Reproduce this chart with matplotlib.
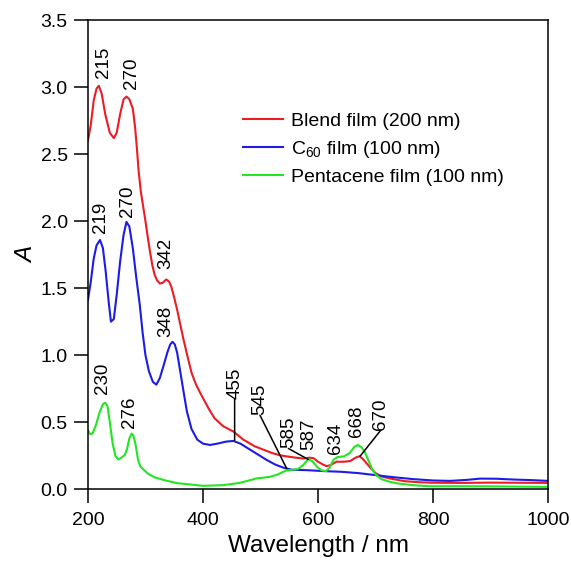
import matplotlib
matplotlib.use('Agg')
from matplotlib import pyplot as plt

plt.rcParams['font.family'] = ['Liberation Sans', 'DejaVu Sans']
plt.rcParams['mathtext.fontset'] = 'custom'
plt.rcParams['mathtext.rm'] = 'Liberation Sans'
plt.rcParams['mathtext.it'] = 'Liberation Sans:italic'
plt.rcParams['mathtext.default'] = 'regular'

# spectra (wavelength nm, absorbance)
blend_wl = [200, 205, 210, 215, 219, 224, 230, 238, 245, 250, 256, 262, 267, 272, 278, 282,
            285, 288, 292, 296, 300, 304, 308, 312, 316, 320, 325, 330, 336, 341, 345, 350,
            355, 360, 366, 372, 380, 388, 395, 410, 420, 435, 453, 470, 490, 505, 520, 535,
            550, 565, 575, 585, 592, 600, 608, 615, 622, 632, 645, 656, 665, 672, 678, 685,
            692, 700, 710, 725, 750, 775, 800, 850, 900, 950, 1000]
blend_a = [2.60, 2.72, 2.90, 2.99, 3.01, 2.95, 2.80, 2.66, 2.62, 2.66, 2.80, 2.91, 2.93, 2.91, 2.84, 2.70,
           2.55, 2.38, 2.22, 2.11, 2.00, 1.88, 1.77, 1.67, 1.60, 1.56, 1.535, 1.54, 1.565, 1.55, 1.51, 1.43,
           1.34, 1.24, 1.12, 1.01, 0.87, 0.78, 0.72, 0.60, 0.53, 0.47, 0.43, 0.37, 0.32, 0.295, 0.27, 0.252,
           0.242, 0.233, 0.229, 0.235, 0.232, 0.205, 0.185, 0.172, 0.18, 0.205, 0.205, 0.21, 0.235, 0.246, 0.225, 0.19,
           0.155, 0.12, 0.095, 0.08, 0.06, 0.052, 0.048, 0.047, 0.049, 0.048, 0.047]

c60_wl = [200, 205, 210, 215, 221, 226, 231, 236, 240, 245, 250, 256, 262, 267, 272, 278,
          284, 290, 295, 300, 306, 313, 319, 325, 332, 338, 343, 347, 351, 355, 360, 365,
          372, 380, 390, 400, 412, 425, 440, 453, 465, 480, 495, 510, 525, 540, 555, 580,
          610, 640, 670, 700, 730, 766, 800, 830, 860, 882, 910, 940, 970, 1000]
c60_a = [1.41, 1.55, 1.72, 1.82, 1.86, 1.80, 1.62, 1.40, 1.25, 1.27, 1.45, 1.70, 1.90, 1.995, 1.96, 1.80,
         1.58, 1.38, 1.17, 1.00, 0.88, 0.80, 0.78, 0.83, 0.93, 1.02, 1.08, 1.10, 1.08, 1.02, 0.89, 0.76,
         0.58, 0.45, 0.37, 0.34, 0.33, 0.34, 0.355, 0.36, 0.34, 0.30, 0.26, 0.22, 0.185, 0.16, 0.145, 0.142,
         0.135, 0.13, 0.12, 0.105, 0.09, 0.075, 0.065, 0.062, 0.07, 0.079, 0.078, 0.072, 0.068, 0.062]

pen_wl = [200, 204, 208, 214, 220, 226, 230, 234, 238, 243, 248, 253, 258, 264, 268, 272,
          276, 279, 283, 287, 291, 297, 304, 315, 333, 355, 374, 400, 435, 464, 493, 516,
          530, 543, 555, 565, 574, 583, 590, 598, 606, 614, 620, 627, 634, 645, 655, 663,
          669, 675, 681, 687, 694, 700, 710, 725, 740, 765, 795, 850, 900, 950, 1000]
pen_a = [0.44, 0.41, 0.415, 0.48, 0.57, 0.635, 0.645, 0.62, 0.50, 0.34, 0.245, 0.222, 0.235, 0.255, 0.30, 0.38,
         0.415, 0.40, 0.33, 0.22, 0.17, 0.145, 0.117, 0.09, 0.067, 0.045, 0.037, 0.025, 0.03, 0.047, 0.08, 0.092,
         0.11, 0.137, 0.145, 0.15, 0.18, 0.224, 0.21, 0.168, 0.14, 0.135, 0.16, 0.22, 0.24, 0.245, 0.27, 0.315,
         0.33, 0.315, 0.28, 0.22, 0.15, 0.11, 0.075, 0.055, 0.042, 0.03, 0.022, 0.022, 0.021, 0.019, 0.017]

# peak labels: text, label x, label bottom y, leader end x, leader end y (None = no leader)
peak_txt = ['215', '270', '219', '270', '342', '348', '230', '276',
            '455', '545', '585', '587', '634', '668', '670']
peak_tx = [227, 275.5, 221.7, 269, 334.8, 336, 226, 273,
           455, 499, 548.4, 583, 629.6, 667.3, 709]
peak_ty = [3.07, 2.99, 1.91, 2.03, 1.645, 1.137, 0.71, 0.453,
           0.675, 0.552, 0.304, 0.291, 0.266, 0.39, 0.44]
peak_px = [None, None, None, None, None, None, None, None,
           455, 545.5, 583, None, None, None, 673]
peak_py = [None, None, None, None, None, None, None, None,
           0.366, 0.154, 0.222, None, None, None, 0.246]

fig = plt.figure(figsize=(5.71, 5.61), dpi=100)
ax = fig.add_axes([0.154, 0.128, 0.806, 0.836])

ax.plot(blend_wl, blend_a, color='#ec1c24', lw=1.5, label='Blend film (200 nm)')
ax.plot(c60_wl, c60_a, color='#1c1ce6', lw=1.5, label='C$_{60}$ film (100 nm)')
ax.plot(pen_wl, pen_a, color='#22e622', lw=1.5, label='Pentacene film (100 nm)')

for i in range(len(peak_txt)):
    if peak_px[i] is None:
        ax.text(peak_tx[i], peak_ty[i], peak_txt[i], rotation=90, ha='center', va='bottom',
                fontsize=13.5)
    else:
        ax.annotate(peak_txt[i], xy=(peak_px[i], peak_py[i]), xytext=(peak_tx[i], peak_ty[i]),
                    rotation=90, ha='center', va='bottom', fontsize=13.5,
                    arrowprops=dict(arrowstyle='-', color='k', lw=1.1, patchA=None,
                                    shrinkA=0, shrinkB=0, relpos=(0.5, 0)))

ax.set_xlim(200, 1000)
ax.set_ylim(0, 3.5)
ax.set_xticks([200, 400, 600, 800, 1000])
ax.set_yticks([0.0, 0.5, 1.0, 1.5, 2.0, 2.5, 3.0, 3.5])
ax.set_yticklabels(['0.0', '0.5', '1.0', '1.5', '2.0', '2.5', '3.0', '3.5'])
ax.tick_params(direction='out', length=10, width=1.1, labelsize=14)
ax.tick_params(axis='x', pad=6.5)
ax.tick_params(axis='y', pad=4.5)
for s in ax.spines.values():
    s.set_linewidth(1.1)

ax.set_xlabel('Wavelength / nm', fontsize=17.5, labelpad=4)
ax.set_ylabel('A', fontsize=17.5, fontstyle='italic', labelpad=2)

ax.legend(loc='center left', bbox_to_anchor=(0.315, 0.725), frameon=False, fontsize=14,
          handlelength=2.1, handletextpad=0.4, labelspacing=0.45, borderpad=0)

plt.savefig('out.png', dpi=100)
